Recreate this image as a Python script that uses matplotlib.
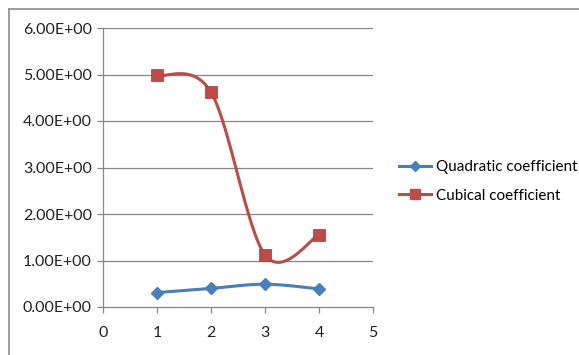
import matplotlib.pyplot as plt
from matplotlib.lines import Line2D
import numpy as np

x_vals = [1, 2, 3, 4]
quadratic = [0.31, 0.40, 0.49, 0.39]
cubical = [4.98, 4.62, 1.12, 1.55]
y_ticks = [0, 1, 2, 3, 4, 5, 6]
x_ticks = [0, 1, 2, 3, 4, 5]

blue = '#4A7EBB'
red = '#BE4B48'

plt.rcParams['font.family'] = ['Lato', 'DejaVu Sans']


def smooth(xs, ys, n=40):
    # bezier segments through the points, like a spreadsheet "smoothed line"
    pts = np.column_stack([xs, ys]).astype(float)
    ext = np.vstack([pts[0], pts, pts[-1]])
    out = []
    t = np.linspace(0, 1, n)[:, None]
    for i in range(1, len(ext) - 2):
        p0, p1, p2, p3 = ext[i - 1], ext[i], ext[i + 1], ext[i + 2]
        c1 = p1 + (p2 - p0) / 6
        c2 = p2 - (p3 - p1) / 6
        seg = ((1 - t) ** 3) * p1 + 3 * ((1 - t) ** 2) * t * c1 \
            + 3 * (1 - t) * t ** 2 * c2 + t ** 3 * p2
        out.append(seg if i == 1 else seg[1:])
    out = np.vstack(out)
    return out[:, 0], out[:, 1]


fig = plt.figure(figsize=(5.79, 3.55), dpi=100)
ax = fig.add_axes([103 / 579, 1 - 307 / 355, 270 / 579, 279 / 355])

for y in y_ticks[1:]:
    ax.axhline(y, color='#878787', lw=0.9, zorder=1)

sx, sy = smooth(x_vals, quadratic)
ax.plot(sx, sy, color=blue, lw=2.2, zorder=3)
ax.plot(x_vals, quadratic, 'D', color=blue, ms=6, zorder=4)

sx, sy = smooth(x_vals, cubical)
ax.plot(sx, sy, color=red, lw=2.2, zorder=3)
ax.plot(x_vals, cubical, 's', color=red, ms=8, mec='#9a3a38', mew=0.5, zorder=4)

ax.set_xlim(0, 5)
ax.set_ylim(0, 6)
ax.set_xticks(x_ticks)
ax.set_yticks(y_ticks)
ax.set_yticklabels(['%.2fE+00' % v for v in y_ticks])
ax.tick_params(axis='both', labelsize=11.5, colors='#878787', labelcolor='#222222',
               length=4, width=0.9)
ax.tick_params(axis='x', pad=10)
ax.tick_params(axis='y', pad=4)
for side in ['top', 'right']:
    ax.spines[side].set_visible(False)
for side in ['left', 'bottom']:
    ax.spines[side].set_color('#878787')
    ax.spines[side].set_linewidth(0.9)

handles = [
    Line2D([], [], color=blue, lw=2.2, marker='D', ms=5),
    Line2D([], [], color=red, lw=2.2, marker='s', ms=7),
]
fig.legend(handles, ['Quadratic coefficient', 'Cubical coefficient'],
           loc='upper left', bbox_to_anchor=(399 / 579, 1 - 160 / 355),
           frameon=False, fontsize=11, handlelength=2.1, handletextpad=0.3,
           labelspacing=0.95, borderaxespad=0, borderpad=0)

# chart border along the top and left edge
fig.add_artist(Line2D([9 / 579, 1], [1 - 9 / 355, 1 - 9 / 355],
                      transform=fig.transFigure, color='#8c8c8c', lw=1.2))
fig.add_artist(Line2D([9 / 579, 9 / 579], [0, 1 - 9 / 355],
                      transform=fig.transFigure, color='#8c8c8c', lw=1.2))

fig.savefig('out.png', dpi=100)
